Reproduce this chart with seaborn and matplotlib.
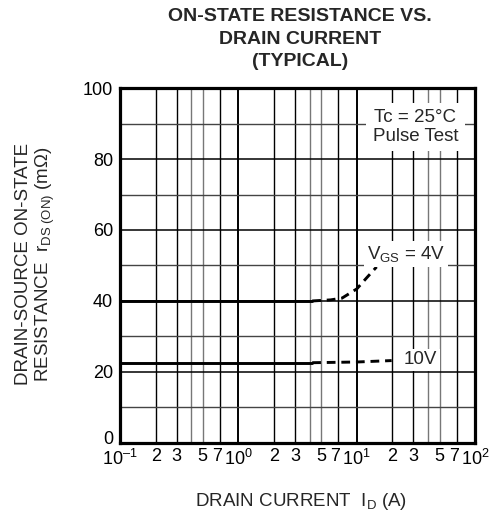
import numpy as np
import pandas as pd
import matplotlib
matplotlib.use("Agg")
import matplotlib.pyplot as plt
import matplotlib.transforms as mtransforms
import seaborn as sns
from matplotlib.ticker import FixedLocator

# curve data
id_4v_solid = [0.1, 4.2]
r_4v_solid = [40, 40]
id_4v_dash = [4.2, 6.0, 7.5, 10.0, 12.1, 14.7]
r_4v_dash = [40, 40.3, 40.8, 43.4, 46.5, 49.6]

id_10v_solid = [0.1, 4.2]
r_10v_solid = [22.6, 22.6]
id_10v_dash = [4.2, 10.0, 19.7]
r_10v_dash = [22.6, 22.8, 23.2]

decades = [0.1, 1, 10, 100]
decade_labels = ["10$^{\u2013 1}$", "10$^{0}$", "10$^{1}$", "10$^{2}$"]
minor_digits = [2, 3, 5, 7]
y_major = [0, 20, 40, 60, 80, 100]
y_minor = [10, 30, 50, 70, 90]


def make_plot():
    sns.set_style("white")
    plt.rcParams['font.family'] = ['Liberation Sans', 'DejaVu Sans']
    plt.rcParams['mathtext.fontset'] = 'custom'
    plt.rcParams['mathtext.rm'] = 'Liberation Sans'
    plt.rcParams['mathtext.it'] = 'Liberation Sans'

    fig = plt.figure(figsize=(4.96, 5.15), dpi=100)
    ax = fig.add_axes([0.242, 0.140, 0.716, 0.689])

    # grid drawn by hand: decades thick, 2/3/7 black, 4/5 grey
    for d in [0.1, 1, 10]:
        for m in [1, 2, 3, 4, 5, 7]:
            x = d * m
            if x == 0.1:
                continue
            if m == 1:
                ax.axvline(x, color='black', lw=1.4, zorder=1)
            elif m in (4, 5):
                ax.axvline(x, color='#777777', lw=1.0, zorder=1)
            else:
                ax.axvline(x, color='black', lw=1.0, zorder=1)
    for y in y_major[1:-1]:
        ax.axhline(y, color='black', lw=1.1, zorder=1)
    for y in y_minor:
        ax.axhline(y, color='#444444', lw=1.0, zorder=1)

    solid = pd.DataFrame({'id': id_4v_solid + id_10v_solid,
                          'r': r_4v_solid + r_10v_solid,
                          'vgs': ['4V'] * 2 + ['10V'] * 2})
    dash = pd.DataFrame({'id': id_4v_dash + id_10v_dash,
                         'r': r_4v_dash + r_10v_dash,
                         'vgs': ['4V'] * len(id_4v_dash) + ['10V'] * len(id_10v_dash)})

    sns.lineplot(data=solid, x='id', y='r', units='vgs', estimator=None,
                 color='black', lw=2.1, ax=ax, zorder=3, sort=False)
    sns.lineplot(data=dash, x='id', y='r', units='vgs', estimator=None,
                 color='black', lw=2.1, ax=ax, zorder=3, sort=False)
    ax.lines[-1].set_dashes([3, 2])
    ax.lines[-2].set_dashes([3, 2])

    ax.set_xscale('log')
    ax.set_xlim(0.1, 100)
    ax.set_ylim(0, 100)
    ax.set_xlabel("")
    ax.set_ylabel("")

    ax.xaxis.set_major_locator(FixedLocator(decades))
    ax.set_xticklabels(decade_labels)
    minor_pos = [d * m for d in decades[:-1] for m in minor_digits]
    ax.set_xticks(minor_pos, minor=True)
    ax.set_xticklabels([str(m) for d in decades[:-1] for m in minor_digits], minor=True)
    ax.set_yticks(y_major)
    ax.tick_params(axis='both', which='both', length=0, labelsize=13,
                   colors='black')
    ax.tick_params(axis='x', which='both', pad=4)
    ax.tick_params(axis='y', pad=5)

    # nudge the "7" labels left so they sit next to the decade labels
    shift = mtransforms.ScaledTranslation(-3 / 100, 0, fig.dpi_scale_trans)
    for lbl in ax.get_xticklabels(minor=True):
        if lbl.get_text() == '7':
            lbl.set_transform(lbl.get_transform() + shift)
    # and lift the "0" so it clears the 10^-1 label
    up = mtransforms.ScaledTranslation(0, 5 / 100, fig.dpi_scale_trans)
    ylbls = ax.get_yticklabels()
    ylbls[0].set_transform(ylbls[0].get_transform() + up)

    for sp in ax.spines.values():
        sp.set_linewidth(2.3)
        sp.set_color('black')
        sp.set_zorder(5)

    ax.text(31.2, 89.0, "Tc = 25\u00b0C\nPulse Test", ha='center', va='center',
            fontsize=13.5, linespacing=1.1, zorder=4,
            bbox=dict(boxstyle='square,pad=0.35', fc='white', ec='none'))
    ax.text(26.1, 53.2, r"V$_{\rm GS}$ = 4V", ha='center', va='center',
            fontsize=13.5, zorder=4,
            bbox=dict(boxstyle='square,pad=0.15', fc='white', ec='none'))
    ax.text(34.4, 23.4, "10V", ha='center', va='center',
            fontsize=13.5, zorder=4,
            bbox=dict(boxstyle='square,pad=0.15', fc='white', ec='none'))

    fig.text(0.607, 0.027, r"DRAIN CURRENT  I$_{\rm D}$ (A)", ha='center',
             va='center', fontsize=13.5)
    fig.text(0.073, 0.488, "DRAIN-SOURCE ON-STATE\n" + r"RESISTANCE  r$_{\rm DS\ (ON)}$ (m$\Omega$)",
             ha='center', va='center', rotation=90, fontsize=13.5, linespacing=1.1,
             multialignment='center')

    fig.text(0.605, 0.985, "ON-STATE RESISTANCE VS.\nDRAIN CURRENT\n(TYPICAL)",
             ha='center', va='top', fontsize=14, fontweight='bold', linespacing=1.45)

    return fig


def main():
    fig = make_plot()
    fig.savefig("out.png", dpi=100)


if __name__ == "__main__":
    main()
